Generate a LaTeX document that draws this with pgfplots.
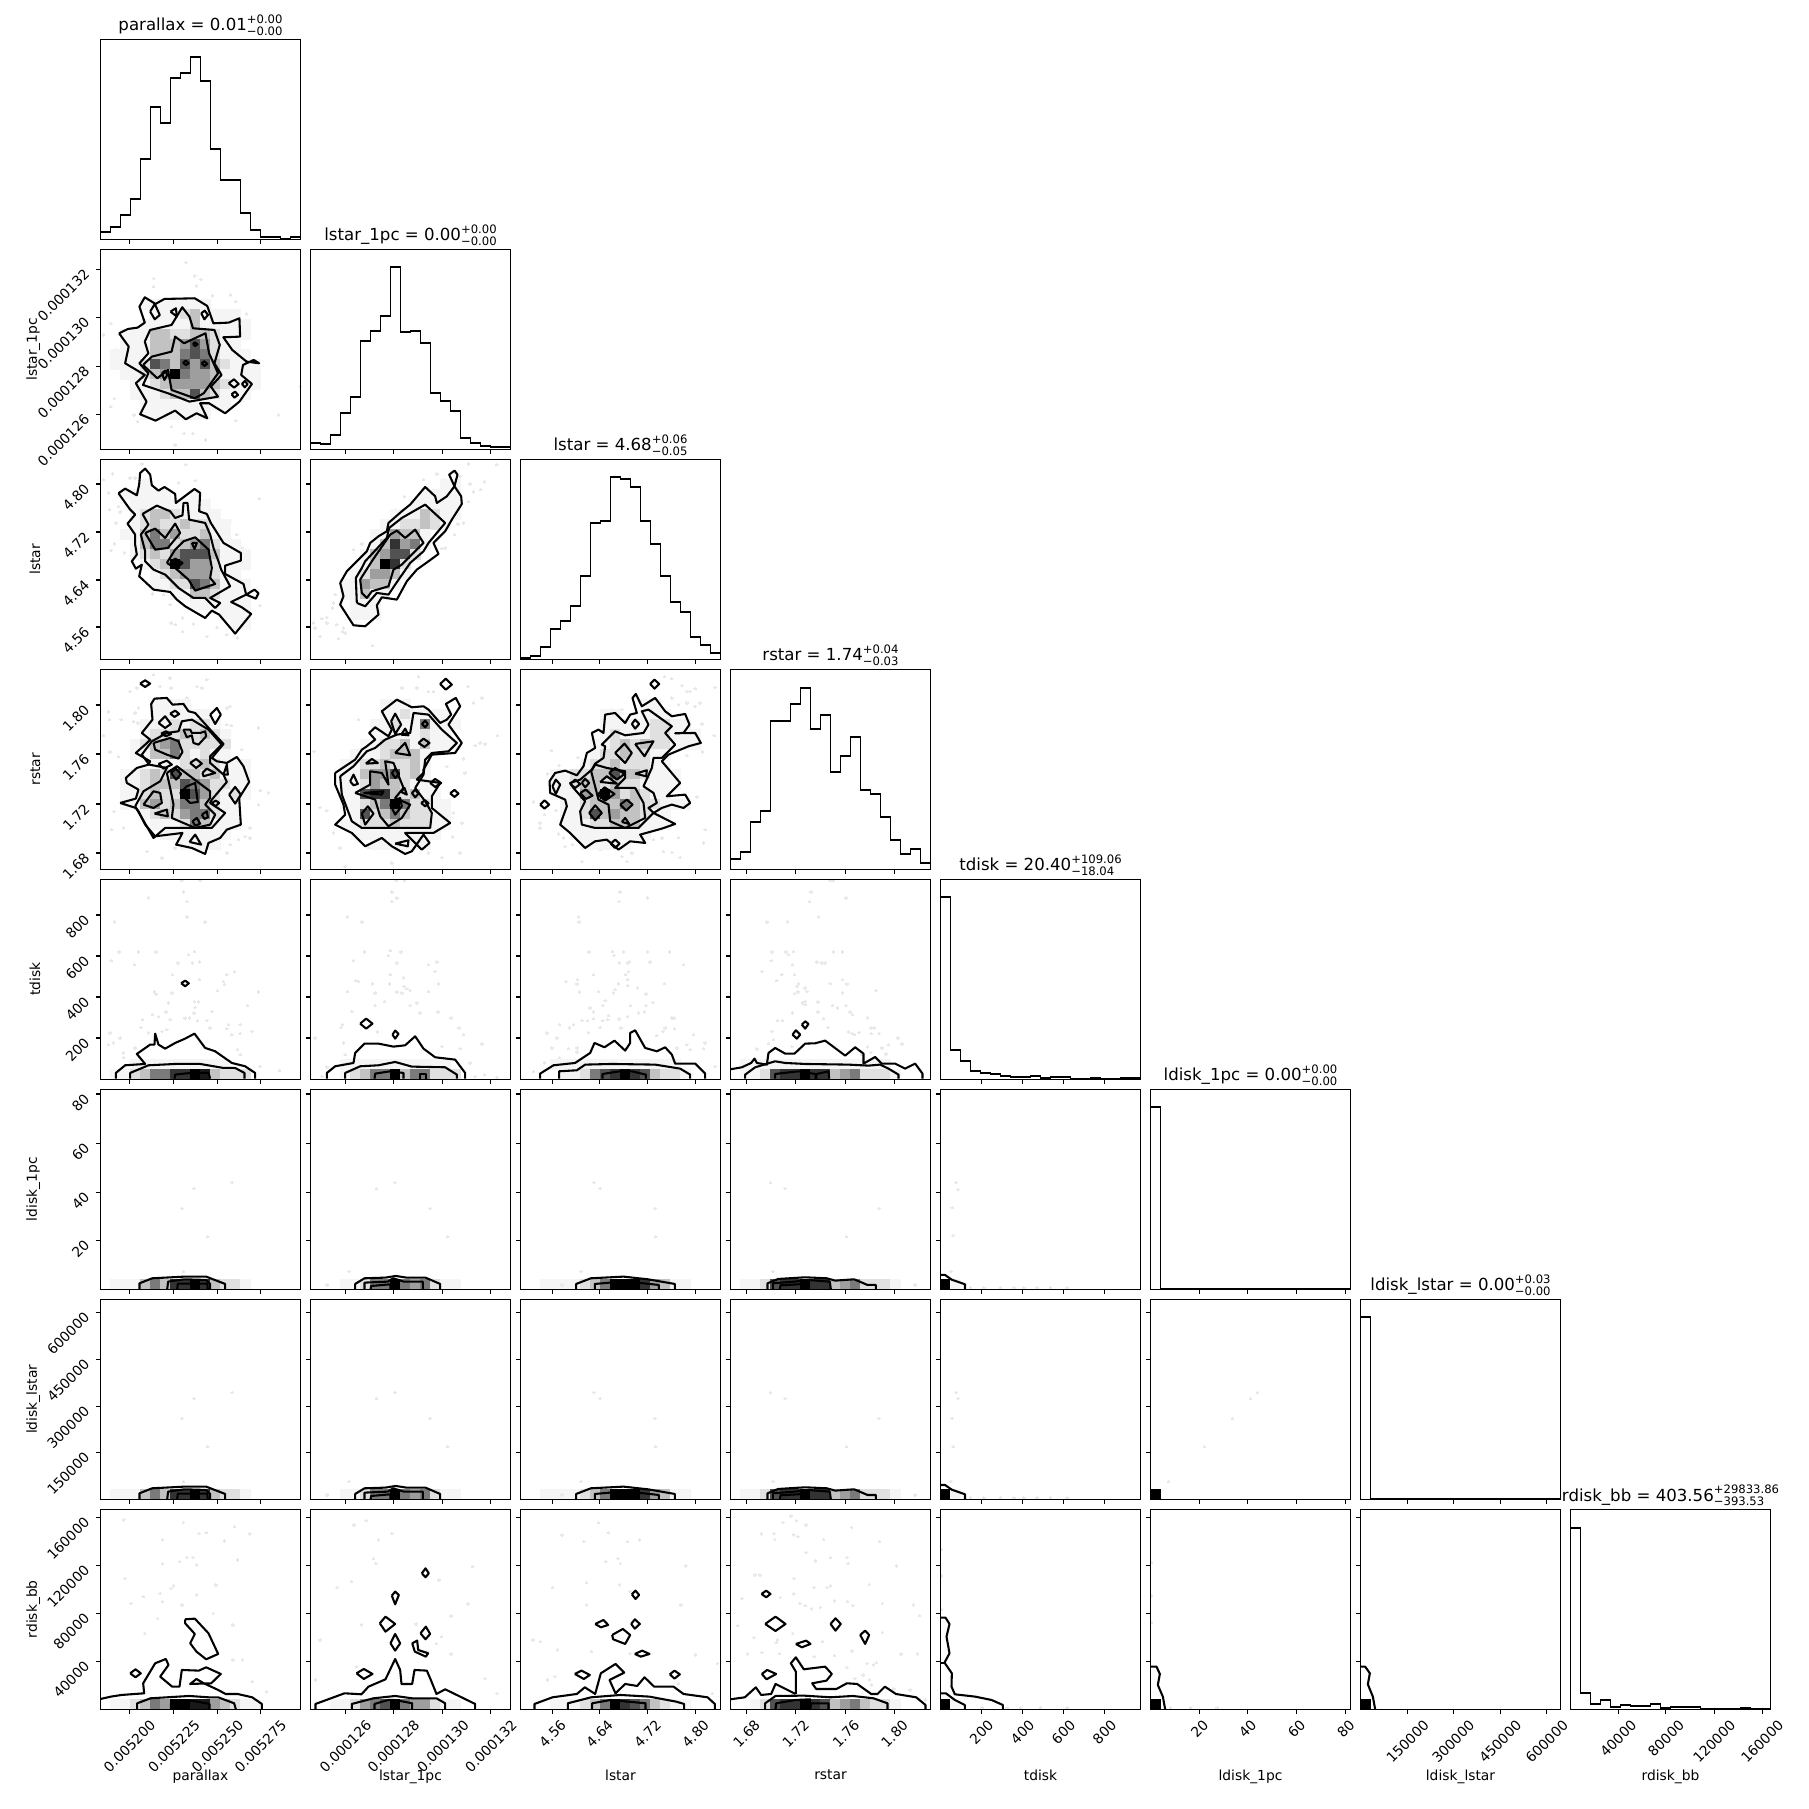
\documentclass[border=0pt]{standalone}
\usepackage{fontspec}
\setmainfont{DejaVu Sans}
\usepackage{graphicx}
\usepackage{pgfplots}
\pgfplotsset{compat=1.18}
\newcommand\rb[1]{\rotatebox{45}{#1}}
\newcommand\ttl[4]{{\fontsize{12}{14}\selectfont #1 = #2{\fontsize{8.4}{9}\selectfont\ooalign{\raisebox{5.2pt}{#3}\hfil\cr\raisebox{-3.5pt}{#4}\hfil\cr}}}}
\newcommand\calib[4]{\def\xo{#1}\def\xs{#2}\def\yo{#3}\def\ys{#4}}
\newcount\cx \newcount\cy
\def\C#1#2{\cy=#1 \cx=0 \parsecells#2\relax}
\def\parsecells#1{\ifx#1\relax\else
  \if#10\else\xdef\celldata{\celldata(\the\numexpr\cx*30+15\relax,\the\numexpr\cy*30+15\relax)[#1]}\fi
  \advance\cx 1 \expandafter\parsecells\fi}
\newcommand\img[1]{\gdef\celldata{}#1\expandafter\imgplot\expandafter{\celldata}}
\def\imgplot#1{\addplot[cell] coordinates {#1};}
\newcommand\ct[1]{\addplot[ct] coordinates {#1};}
\newcommand\pts[1]{\addplot[pt] coordinates {#1};}
\newcommand\hh[1]{\gdef\hd{(0,0)}\foreach \v [count=\i from 0] in {#1}{\pgfmathtruncatemacro\xx{\i*30}\xdef\hd{\hd(\xx,\v)}\xdef\lastv{\v}}\xdef\hd{\hd(600,\lastv)(600,0)}\expandafter\hplot\expandafter{\hd}}
\def\hplot#1{\addplot[hl] coordinates {#1};}
\pgfplotsset{
 colormap={corner}{gray(0cm)=(1); gray(1cm)=(.96); gray(2cm)=(.88); gray(3cm)=(.76); gray(4cm)=(.62); gray(5cm)=(.48); gray(6cm)=(.32); gray(7cm)=(.2); gray(8cm)=(.1); gray(9cm)=(0)},
 cell/.style={scatter,only marks,mark=square*,mark size=3.65pt,point meta=explicit,
   scatter/use mapped color={draw=mapped color,fill=mapped color},mark options={line width=0pt}},
 ct/.style={black,line width=1.5pt,line join=round,no marks,
   x filter/.expression={(x-\xo)*\xs},y filter/.expression={(y-\yo)*\ys}},
 pt/.style={only marks,mark=*,mark size=0.9pt,mark options={draw=black!9,fill=black!9,line width=0pt},
   x filter/.expression={(x-\xo)*\xs},y filter/.expression={(y-\yo)*\ys}},
 hl/.style={black,line width=1.3pt,no marks,const plot mark left},
 p/.style 2 args={at={({(100.5+210*(#1-1))*0.7227pt},{(99.7+210*(8-#2))*0.7227pt})}},
 base/.style={anchor=south west,width=144.54pt,height=144.54pt,scale only axis,clip mode=individual,
   xmin=0,xmax=600,ymin=0,ymax=600,axis on top,colormap name=corner,point meta min=0,point meta max=9,
   tick align=outside,major tick length=3.5pt,tick style={black,line width=0.8pt},
   axis line style={line width=0.8pt},
   xticklabels={},yticklabels={},
   xticklabel shift=3.5pt,yticklabel shift=3.5pt,
   x tick label style={anchor=north,inner sep=0pt},
   y tick label style={anchor=north east,inner sep=0pt,yshift=1pt},
   every axis y label/.style={at={(axis description cs:-0.3,0.5)},rotate=90,anchor=south,inner sep=0pt},
   every axis x label/.style={at={(axis description cs:0.5,-0.3)},anchor=north,inner sep=0pt},
   title style={at={(axis description cs:0.5,1)},anchor=base,inner sep=0pt}},
 two/.style={base,y dir=reverse,xtick pos=left,xticklabel pos=left,ytick pos=left},
 one/.style={base,ytick=\empty,xtick pos=left},
 c1/.style={xtick={87,220,351,480}},
 c2/.style={xtick={105,249,397,541}},
 c3/.style={xtick={96,237,381,525}},
 c4/.style={xtick={48,195,346,492}},
 c5/.style={xtick={122.5,245.5,368.5,491.5}},
 c6/.style={xtick={147,291,438,586}},
 c7/.style={xtick={141,278,419,559}},
 c8/.style={xtick={143,286,431,575}},
 r2/.style={ytick={60,204,351,495}},
 r3/.style={ytick={74,218,362,503}},
 r4/.style={ytick={107,254,404,551}},
 r5/.style={ytick={107,230,353,476}},
 r6/.style={ytick={14,162,309,453}},
 r7/.style={ytick={39,180,321,459}},
 r8/.style={ytick={24,168,312,456}},
 lc1/.style={xticklabels={\rb{0.005200},\rb{0.005225},\rb{0.005250},\rb{0.005275}},xlabel={parallax}},
 lc2/.style={xticklabels={\rb{0.000126},\rb{0.000128},\rb{0.000130},\rb{0.000132}},xlabel={lstar\_1pc}},
 lc3/.style={xticklabels={\rb{4.56},\rb{4.64},\rb{4.72},\rb{4.80}},xlabel={lstar}},
 lc4/.style={xticklabels={\rb{1.68},\rb{1.72},\rb{1.76},\rb{1.80}},xlabel={rstar}},
 lc5/.style={xticklabels={\rb{200},\rb{400},\rb{600},\rb{800}},xlabel={tdisk}},
 lc6/.style={xticklabels={\rb{20},\rb{40},\rb{60},\rb{80}},xlabel={ldisk\_1pc}},
 lc7/.style={xticklabels={\rb{150000},\rb{300000},\rb{450000},\rb{600000}},xlabel={ldisk\_lstar}},
 lc8/.style={xticklabels={\rb{40000},\rb{80000},\rb{120000},\rb{160000}},xlabel={rdisk\_bb}},
 lr2/.style={yticklabels={\rb{0.000132},\rb{0.000130},\rb{0.000128},\rb{0.000126}},ylabel={lstar\_1pc}},
 lr3/.style={yticklabels={\rb{4.80},\rb{4.72},\rb{4.64},\rb{4.56}},ylabel={lstar}},
 lr4/.style={yticklabels={\rb{1.80},\rb{1.76},\rb{1.72},\rb{1.68}},ylabel={rstar}},
 lr5/.style={yticklabels={\rb{800},\rb{600},\rb{400},\rb{200}},ylabel={tdisk}},
 lr6/.style={yticklabels={\rb{80},\rb{60},\rb{40},\rb{20}},ylabel={ldisk\_1pc}},
 lr7/.style={yticklabels={\rb{600000},\rb{450000},\rb{300000},\rb{150000}},ylabel={ldisk\_lstar}},
 lr8/.style={yticklabels={\rb{160000},\rb{120000},\rb{80000},\rb{40000}},ylabel={rdisk\_bb}},
}
% shared bodies of rows 6 and 7 (the two quantities are tied together)
\def\bodyA{\calib{0}{1}{0}{1}\img{\C{19}{011135377973221}}
 \ct{(117,600)(117,582)(155,567)(252,562)(317,562)(374,584)(374,600)}
 \ct{(200,600)(203,577)(252,570)(317,572)(329,584)(329,600)}
 \ct{(230,600)(232,583)(320,583)(322,600)}
 \pts{(395,279)(281,297)(244,357)(322,442)(249,546)}}
\def\bodyB{\calib{0}{1}{0}{1}\img{\C{19}{000112559545211}}
 \ct{(134,600)(134,584)(162,567)(224,565)(256,560)(288,565)(345,565)(389,584)(389,600)}
 \ct{(162,600)(162,580)(232,577)(248,567)(280,577)(337,577)(337,600)}
 \ct{(180,600)(182,590)(240,585)(240,600)}
 \pts{(253,279)(198,297)(359,357)(412,442)(116,546)(50,587)}}
\def\bodyC{\calib{0}{1}{0}{1}\img{\C{19}{00111123599974311}}
 \ct{(167,600)(167,584)(211,567)(309,562)(382,570)(463,584)(463,600)}
 \ct{(223,600)(223,584)(268,580)(350,580)(415,587)(415,600)}
 \pts{(220,279)(239,297)(403,357)(406,442)(182,546)(125,587)}}
\def\bodyD{\calib{0}{1}{0}{1}\img{\C{19}{01126779773452221}}
 \ct{(111,600)(111,582)(143,569)(224,564)(289,567)(314,574)(371,570)(411,587)(436,587)(436,600)}
 \ct{(127,600)(127,582)(192,577)(232,572)(298,577)(301,600)}
 \ct{(148,600)(150,588)(220,584)(222,600)}
 \pts{(120,279)(164,297)(445,357)(348,442)(127,546)(554,587)}}
\begin{document}
\begin{tikzpicture}
\useasboundingbox (0,0) rectangle (1307.36pt,1307.36pt);
% ---- diagonal
\begin{axis}[one,p={1}{1},c1,title={\ttl{parallax}{0.01}{+0.00}{−0.00}}]
\hh{21,36,72,120,240,396,348,483,499,546,475,270,177,177,78,28,6,6,1,6}
\end{axis}
\begin{axis}[one,p={2}{2},c2,title={\ttl{lstar\_1pc}{0.00}{+0.00}{−0.00}}]
\hh{18,15,42,108,156,324,354,399,546,351,354,318,168,144,114,33,18,10,6,6}
\end{axis}
\begin{axis}[one,p={3}{3},c3,title={\ttl{lstar}{4.68}{+0.06}{−0.05}}]
\hh{4,11,36,90,114,160,249,408,414,546,541,516,414,345,249,171,141,66,42,18}
\end{axis}
\begin{axis}[one,p={4}{4},c4,title={\ttl{rstar}{1.74}{+0.04}{−0.03}}]
\hh{32,53,142,174,446,446,497,545,420,464,293,339,398,239,225,158,87,46,60,20}
\end{axis}
\begin{axis}[one,p={5}{5},c5,title={\ttl{tdisk}{20.40}{+109.06}{−18.04}}]
\hh{546,88,55,26,20,16,11,6,6,10,4,6,6,1,1,4,1,2,4,4}
\end{axis}
\begin{axis}[one,p={6}{6},c6,title={\ttl{ldisk\_1pc}{0.00}{+0.00}{−0.00}}]
\hh{546,0,0,0,0,0,0,0,0,0,0,0,0,0,0,0,0,0,0,0}
\end{axis}
\begin{axis}[one,p={7}{7},c7,title={\ttl{ldisk\_lstar}{0.00}{+0.03}{−0.00}}]
\hh{546,0,0,0,0,0,0,0,0,0,0,0,0,0,0,0,0,0,0,0}
\end{axis}
\begin{axis}[one,p={8}{8},c8,lc8,title={\ttl{rdisk\_bb}{403.56}{+29833.86}{−393.53}}]
\hh{545,50,17,27,7,14,11,11,15,5,8,6,6,2,2,2,2,5,2,2}
\end{axis}
% ---- row 2
\calib{281}{1.0714}{748}{1}
\begin{axis}[two,p={1}{2},c1,r2,lr2]
\pts{(520,787)(430,835)(545,828)(562,838)(550,858)(430,860)(645,885)(595,888)(660,905)(690,942)(310,970)(290,1005)(327,1050)(340,1120)(320,1195)(310,1220)(375,1245)(385,1265)(480,1280)(515,1300)(540,1300)(575,1320)(490,1335)(660,1262)(780,1245)(662,1160)(840,1160)}
\img{\C{5}{00001111111}\C{6}{00000111231111}\C{7}{000011111311111}\C{8}{001113322332111}\C{9}{00111333464211}\C{10}{011113335652111}\C{11}{0111265364632111}\C{12}{0011234954431111}\C{13}{0001123444432111}\C{14}{000111233632111}\C{15}{0000111111111}\C{16}{00001111111}}
\ct{(333,1000)(358,987)(385,983)(405,968)(390,920)(405,892)(435,912)(460,897)(545,895)(580,918)(597,970)(640,968)(670,955)(672,1010)(625,1012)(650,1050)(690,1085)(725,1090)(710,1080)(680,1095)(675,1125)(705,1152)(670,1205)(630,1240)(585,1210)(560,1210)(580,1255)(550,1240)(520,1258)(490,1232)(435,1262)(392,1243)(410,1205)(380,1150)(405,1125)(350,1090)(360,1040)(333,1000)}
\ct{(405,1025)(420,990)(480,975)(510,922)(530,950)(540,985)(600,990)(615,1035)(600,1090)(620,1125)(590,1160)(610,1190)(530,1205)(470,1180)(400,1155)(415,1120)(390,1090)(415,1060)(405,1025)}
\ct{(400,1095)(425,1070)(480,1055)(490,1010)(515,1030)(575,1000)(585,1060)(610,1120)(570,1180)(545,1195)(480,1170)(470,1110)(440,1135)(400,1095)}
\ct{(420,935)(433,912)(447,945)(433,958)(420,935)}
\ct{(477,935)(492,925)(495,950)(477,935)}
\ct{(563,940)(573,932)(582,945)(572,958)(563,940)}
\ct{(640,1150)(655,1138)(668,1152)(655,1163)(640,1150)}
\ct{(648,1183)(658,1175)(666,1185)(656,1193)(648,1183)}
\ct{(677,1152)(685,1143)(693,1153)(685,1162)(677,1152)}
\ct{(453,1120)(462,1112)(468,1125)(460,1140)(453,1120)}
\ct{(540,1033)(545,1027)(553,1033)(546,1038)(540,1033)}
\ct{(512,1088)(520,1082)(528,1090)(520,1095)(512,1088)}
\ct{(564,1090)(572,1084)(580,1092)(572,1098)(564,1090)}
\end{axis}
% ---- row 3
\calib{16}{1}{14}{1}
\begin{axis}[two,p={1}{3},c1,r3,lr3]
\pts{(52,58)(25,75)(40,115)(43,165)(70,155)(75,172)(62,205)(85,245)(95,232)(58,268)(48,287)(88,295)(105,70)(120,70)(272,30)(140,28)(492,132)(405,200)(385,208)(425,240)(400,250)(440,280)(455,300)(250,85)(300,78)(240,510)(262,490)(228,505)(295,508)(262,530)(335,545)(365,518)(395,540)(427,550)(495,452)(172,418)(205,420)(225,450)}
\img{\C{2}{00001}\C{3}{0011111001}\C{4}{00011111111}\C{5}{000123321111}\C{6}{0001232232211}\C{7}{0011353422311}\C{8}{00013552345211}\C{9}{000123246663111}\C{10}{000012396442111}\C{11}{00000123444211}\C{12}{000001122653111}\C{13}{000000011332111}\C{14}{000000000111111}\C{15}{000000000000111}\C{16}{000000000000011}}
\ct{(70,116)(90,102)(125,122)(132,90)(135,55)(150,42)(165,60)(170,92)(190,108)(208,97)(240,118)(242,145)(298,103)(315,115)(312,170)(335,178)(347,205)(385,265)(437,295)(437,318)(390,333)(390,358)(445,388)(453,420)(478,405)(490,416)(482,432)(453,420)(408,442)(440,458)(468,478)(420,537)(372,480)(350,468)(330,490)(270,455)(245,435)(225,412)(175,405)(132,365)(140,330)(122,342)(110,320)(125,300)(120,270)(120,240)(97,207)(120,180)(105,165)(70,116)}
\ct{(142,178)(185,153)(225,170)(240,190)(262,182)(265,145)(277,145)(282,195)(330,205)(345,240)(355,280)(370,320)(378,345)(405,395)(345,430)(375,445)(360,460)(330,430)(295,430)(250,400)(210,360)(175,345)(150,320)(150,290)(137,240)(160,210)(142,178)}
\ct{(150,235)(180,222)(210,250)(240,207)(255,235)(218,280)(180,285)(150,235)}
\ct{(215,325)(240,285)(265,260)(300,248)(340,285)(350,340)(345,370)(360,388)(300,408)(280,375)(240,340)(215,325)}
\ct{(290,265)(305,265)(298,283)(290,265)}
\ct{(225,325)(240,312)(262,325)(245,340)(225,325)}
\end{axis}
\calib{646}{1}{14}{1}
\begin{axis}[two,p={2}{3},c2,r3]
\pts{(1120,28)(1205,30)(1025,58)(1095,65)(1045,75)(985,75)(1040,98)(1125,88)(1168,82)(1157,105)(1135,112)(1120,140)(928,125)(900,165)(1105,205)(1088,208)(1078,240)(1050,280)(1040,282)(775,285)(800,268)(720,420)(715,445)(712,460)(695,488)(680,492)(655,505)(660,520)(695,505)(745,520)(742,530)(725,510)(750,535)(675,545)(730,552)(832,573)}
\img{\C{2}{000000000000011}\C{3}{000000000001111}\C{4}{000000000011111}\C{5}{000000001113211}\C{6}{00000001122321}\C{7}{000000114331}\C{8}{000000137451}\C{9}{00000134662}\C{10}{0000013972}\C{11}{0000124431}\C{12}{000114331}\C{13}{00011311}\C{14}{0000111}\C{15}{0000111}}
\ct{(735,385)(755,350)(815,290)(825,265)(850,245)(875,230)(880,205)(920,170)(945,150)(990,97)(1020,125)(1025,145)(1055,125)(1078,95)(1062,60)(1078,48)(1087,60)(1078,95)(1098,125)(1100,148)(1070,195)(1050,230)(1015,265)(1030,298)(1000,320)(965,345)(935,380)(905,435)(860,428)(845,452)(850,480)(810,515)(775,512)(735,450)(745,425)(735,385)}
\ct{(785,445)(782,370)(800,340)(810,320)(875,250)(882,220)(920,190)(990,150)(1050,205)(1000,265)(985,290)(945,325)(900,390)(880,420)(845,415)(810,455)(785,445)}
\ct{(795,375)(830,320)(885,240)(905,228)(930,250)(960,225)(985,265)(920,330)(895,345)(880,395)(830,410)(815,430)(800,415)(795,375)}
\end{axis}
% ---- row 4
\calib{16}{1}{14}{1}
\begin{axis}[two,p={1}{4},c1,r4,lr4]
\pts{(175,30)(225,40)(105,80)(125,70)(195,65)(228,70)(305,65)(335,45)(320,70)(275,100)(405,125)(395,130)(130,130)(120,145)(40,142)(78,165)(115,170)(128,175)(43,165)(395,180)(408,183)(490,190)(25,212)(45,262)(70,275)(440,255)(495,378)(57,440)(50,495)(85,490)(200,580)(155,560)(240,550)(405,540)(430,525)(450,515)(465,520)(465,490)(395,565)(520,385)(490,420)}
\img{\C{3}{000001111}\C{4}{00000111111}\C{5}{000011121221}\C{6}{0000122232321}\C{7}{0001234522222}\C{8}{0001133521211}\C{9}{000011112232111}\C{10}{001123263323111}\C{11}{001123336542211}\C{12}{001123229642121}\C{13}{00113423553211}\C{14}{00001232455211}\C{15}{00000111253111}\C{16}{0000001111111}\C{17}{000000001111}}
\ct{(75,415)(122,402)(130,375)(95,355)(92,340)(125,310)(160,300)(165,290)(122,265)(150,240)(165,225)(140,205)(172,165)(168,118)(178,102)(215,100)(232,120)(265,118)(280,140)(300,145)(345,195)(385,238)(350,280)(365,290)(395,295)(425,277)(445,305)(462,352)(432,400)(437,480)(395,495)(375,520)(340,535)(330,568)(290,550)(243,540)(262,505)(180,515)(150,480)(140,460)(130,440)(122,430)(75,415)}
\ct{(120,425)(145,380)(195,350)(215,310)(162,300)(140,270)(170,230)(215,205)(250,200)(260,170)(290,165)(340,195)(380,240)(345,275)(345,295)(385,330)(395,352)(350,405)(345,415)(390,445)(350,490)(280,490)(210,490)(175,520)(120,425)}
\ct{(175,235)(225,220)(250,230)(262,262)(250,282)(215,270)(180,255)(175,235)}
\ct{(265,195)(285,195)(290,205)(315,205)(330,200)(333,215)(310,240)(295,235)(290,212)(275,218)(265,195)}
\ct{(215,325)(245,305)(345,380)(345,400)(330,420)(360,450)(345,480)(300,490)(230,460)(235,420)(225,370)(215,325)}
\ct{(145,420)(175,380)(195,385)(200,415)(175,430)(145,420)}
\ct{(135,57)(150,47)(165,57)(150,67)(135,57)}
\ct{(345,150)(365,130)(377,150)(360,178)(345,150)}
\ct{(190,175)(210,155)(227,178)(210,190)(190,175)}
\ct{(225,147)(240,138)(252,148)(238,157)(225,147)}
\ct{(198,207)(212,200)(228,208)(212,215)(198,207)}
\ct{(190,298)(215,288)(230,300)(205,312)(190,298)}
\ct{(285,295)(303,283)(320,297)(303,310)(285,295)}
\ct{(322,325)(335,312)(360,325)(325,335)(322,325)}
\ct{(178,447)(215,435)(218,455)(178,447)}
\ct{(402,390)(420,367)(437,390)(420,417)(402,390)}
\ct{(350,415)(362,408)(372,415)(360,425)(350,415)}
\ct{(283,532)(300,510)(318,540)(283,532)}
\ct{(385,330)(395,300)(398,330)(385,330)}
\ct{(228,325)(242,312)(258,328)(243,345)(228,325)}
\ct{(320,450)(335,440)(338,458)(328,463)(320,450)}
\ct{(292,470)(305,460)(315,477)(300,483)(292,470)}
\ct{(255,385)(275,365)(300,355)(308,412)(285,415)(255,385)}
\end{axis}
\calib{646}{1}{14}{1}
\begin{axis}[two,p={2}{4},c2,r4]
\pts{(970,35)(920,70)(965,70)(1000,80)(1015,80)(1118,65)(1160,100)(1135,115)(1140,243)(1155,235)(1170,238)(1207,213)(790,165)(657,260)(1105,283)(1055,305)(1110,325)(1100,475)(1072,517)(1075,445)(675,428)(695,438)(715,505)(735,550)(820,548)(1000,565)(1040,578)(1095,565)(750,605)(890,595)}
\img{\C{3}{0000000111}\C{4}{00000001121111}\C{5}{000000112115111}\C{6}{00000011111211}\C{7}{000001122313111}\C{8}{000011123331}\C{9}{000112232231}\C{10}{000113446231}\C{11}{0001124332111}\C{12}{0001167732311}\C{13}{00011235952211}\C{14}{00001623532211}\C{15}{00011222322211}\C{16}{0000111111111}\C{17}{000000111111}}
\ct{(720,325)(780,285)(800,255)(815,245)(840,225)(822,205)(840,188)(880,215)(890,195)(860,140)(905,105)(950,128)(985,125)(1000,135)(1035,175)(1055,165)(1068,150)(1052,118)(1082,100)(1095,125)(1060,180)(1100,235)(1080,265)(1010,270)(985,315)(985,325)(965,345)(1035,355)(1010,395)(1010,430)(1065,475)(1015,505)(930,505)(980,555)(1003,535)(985,510)(950,560)(930,568)(890,545)(860,520)(810,545)(770,505)(720,480)(750,450)(745,420)(720,360)(720,325)}
\ct{(735,335)(775,305)(815,260)(840,250)(870,225)(905,210)(945,205)(955,145)(1000,150)(1040,195)(1085,235)(1060,260)(1010,265)(990,285)(985,330)(960,370)(990,410)(1010,445)(1005,490)(950,490)(800,490)(770,470)(740,390)(735,335)}
\ct{(780,385)(825,360)(825,320)(860,325)(880,360)(870,290)(895,295)(925,370)(900,400)(945,420)(920,460)(880,485)(855,455)(840,405)(780,385)}
\ct{(805,385)(865,380)(860,390)(805,385)}
\ct{(885,420)(915,400)(920,425)(900,450)(885,420)}
\ct{(800,447)(818,425)(835,447)(810,480)(800,447)}
\ct{(980,178)(990,168)(998,178)(990,188)(980,178)}
\ct{(970,235)(985,222)(1003,235)(988,247)(970,235)}
\ct{(900,265)(930,235)(945,272)(900,265)}
\ct{(888,170)(900,147)(918,180)(900,208)(888,170)}
\ct{(918,210)(930,192)(940,212)(918,210)}
\ct{(765,350)(775,330)(788,358)(775,362)(765,350)}
\ct{(812,297)(830,283)(848,295)(812,297)}
\ct{(890,325)(900,313)(912,327)(900,340)(890,325)}
\ct{(950,385)(960,375)(970,387)(960,398)(950,385)}
\ct{(978,415)(990,407)(1000,416)(990,425)(978,415)}
\ct{(1005,355)(1020,343)(1038,355)(1020,367)(1005,355)}
\ct{(1065,386)(1078,376)(1090,387)(1078,397)(1065,386)}
\ct{(1035,58)(1052,42)(1070,60)(1052,75)(1035,58)}
\ct{(900,537)(940,527)(938,545)(900,537)}
\ct{(918,382)(928,370)(935,390)(918,382)}
\end{axis}
\calib{16}{1}{14}{1}
\begin{axis}[two,p={3}{4},c3,r4]
\pts{(448,35)(500,62)(470,42)(525,80)(515,80)(540,72)(600,68)(470,100)(490,120)(515,115)(555,115)(540,125)(560,178)(597,213)(562,262)(515,272)(545,397)(570,495)(565,535)(490,518)(440,520)(415,525)(445,560)(470,563)(495,578)(350,565)(320,575)(335,590)(255,555)(130,508)(145,520)(150,545)(172,540)(75,490)(75,475)(88,450)(122,437)(55,412)(108,258)(188,278)(132,302)(97,328)(200,590)(290,135)(320,135)}
\img{\C{3}{00000000000011}\C{4}{000000001100111}\C{5}{00000000111112211}\C{6}{000000001211122111}\C{7}{000000011232322111}\C{8}{000000012232211}\C{9}{000000122322211}\C{10}{0001122336332111}\C{11}{0001123323221111}\C{12}{000111439423211}\C{13}{00001123335322111}\C{14}{000011263433211}\C{15}{000011122333111}\C{16}{0000011111111}\C{17}{00000011111}}
\ct{(103,350)(120,325)(150,318)(185,332)(205,305)(215,265)(240,250)(230,205)(250,195)(265,205)(270,150)(300,145)(330,175)(345,150)(365,145)(352,100)(362,88)(380,125)(420,100)(450,140)(470,155)(510,148)(523,180)(505,205)(480,206)(540,205)(557,235)(520,245)(460,270)(440,290)(495,355)(455,395)(510,390)(525,415)(505,430)(470,420)(440,430)(415,445)(480,478)(440,492)(375,510)(390,535)(345,530)(310,555)(275,525)(240,530)(210,550)(165,505)(135,480)(155,425)(150,405)(105,385)(103,350)}
\ct{(230,315)(240,297)(265,280)(270,245)(260,240)(300,200)(330,212)(385,205)(400,180)(380,140)(400,135)(470,185)(450,205)(480,240)(440,280)(415,280)(410,310)(385,365)(415,385)(425,415)(400,430)(415,445)(370,490)(330,490)(240,490)(200,480)(195,440)(210,410)(175,370)(165,355)(195,345)(230,315)}
\ct{(228,320)(240,300)(275,310)(330,320)(330,340)(300,370)(340,370)(360,370)(385,415)(390,460)(330,490)(285,470)(280,420)(250,405)(228,320)}
\ct{(300,265)(328,237)(350,265)(330,295)(300,265)}
\ct{(360,238)(415,230)(388,275)(360,238)}
\ct{(282,325)(300,310)(328,328)(305,345)(282,325)}
\ct{(360,327)(395,317)(393,335)(360,327)}
\ct{(255,352)(275,335)(305,357)(255,352)}
\ct{(315,420)(335,405)(352,420)(333,438)(315,420)}
\ct{(320,472)(330,460)(342,478)(320,472)}
\ct{(222,445)(240,422)(260,445)(240,467)(222,445)}
\ct{(195,385)(212,375)(232,393)(212,403)(195,385)}
\ct{(165,358)(180,345)(195,358)(180,370)(165,358)}
\ct{(200,355)(210,342)(222,355)(210,368)(200,355)}
\ct{(112,365)(122,345)(135,360)(122,388)(112,365)}
\ct{(75,420)(88,407)(102,420)(88,432)(75,420)}
\ct{(350,178)(360,165)(372,178)(360,192)(350,178)}
\ct{(405,58)(418,45)(432,58)(418,72)(405,58)}
\ct{(287,537)(300,525)(313,537)(300,550)(287,537)}
\ct{(248,390)(268,368)(298,388)(270,408)(248,390)}
\end{axis}
% ---- row 5
\calib{16}{1}{14}{1}
\begin{axis}[two,p={1}{5},c1,r5,lr5]
\pts{(58,142)(160,70)(265,52)(275,80)(275,127)(330,142)(260,18)(315,18)(72,232)(130,232)(182,232)(298,230)(280,240)(48,258)(118,270)(248,265)(292,265)(313,262)(418,290)(395,300)(232,300)(313,315)(385,320)(388,330)(178,350)(182,358)(230,355)(367,347)(490,352)(220,385)(298,380)(310,382)(457,392)(300,398)(350,410)(212,412)(172,420)(190,425)(297,415)(142,435)(225,435)(270,430)(283,430)(307,438)(335,437)(138,458)(160,475)(200,470)(215,465)(345,460)(400,450)(435,450)(395,462)(470,470)(435,476)(75,490)(45,475)(40,510)(55,505)(120,520)(85,535)(85,548)(495,575)(553,587)(435,540)(427,525)(410,480)}
\img{\C{18}{0001111111111}\C{19}{011235577983222}}
\ct{(62,612)(62,595)(90,572)(150,568)(125,538)(165,510)(178,510)(180,477)(190,510)(210,522)(240,505)(270,492)(298,477)(330,520)(360,530)(410,565)(450,575)(480,595)(480,612)}
\ct{(105,612)(105,595)(160,572)(240,568)(315,568)(385,580)(420,580)(448,595)(448,612)}
\ct{(238,612)(240,600)(285,595)(340,595)(345,612)}
\ct{(258,326)(270,318)(281,326)(270,335)(258,326)}
\end{axis}
\calib{646}{1}{14}{1}
\begin{axis}[two,p={2}{5},c2,r5]
\pts{(757,127)(800,142)(890,52)(905,70)(890,80)(928,18)(903,18)(808,232)(885,228)(918,232)(880,242)(775,258)(905,265)(1000,270)(1025,262)(1020,290)(885,300)(782,318)(790,320)(925,310)(1030,328)(832,328)(883,328)(927,335)(935,342)(945,347)(757,350)(840,355)(905,352)(920,355)(1000,350)(868,380)(840,392)(965,385)(945,392)(770,410)(1028,412)(975,415)(1068,430)(742,450)(738,458)(1092,460)(847,472)(1105,480)(660,490)(745,505)(1040,515)(1160,508)(1095,522)(750,540)(1125,565)(695,577)(680,605)(1140,605)(1168,600)(1205,608)}
\img{\C{18}{00011111111111}\C{19}{000123559355222}}
\ct{(695,612)(695,595)(720,575)(775,565)(780,535)(808,507)(850,507)(895,516)(930,512)(960,485)(985,522)(1020,548)(1080,555)(1110,595)(1110,612)}
\ct{(750,612)(750,595)(795,575)(850,572)(900,562)(950,576)(1050,578)(1085,600)(1085,612)}
\ct{(838,612)(840,597)(885,590)(925,595)(925,612)}
\ct{(975,612)(975,597)(992,597)(992,612)}
\ct{(795,447)(813,432)(832,447)(813,462)(795,447)}
\ct{(892,480)(900,468)(910,478)(900,492)(892,480)}
\end{axis}
\calib{16}{1}{14}{1}
\begin{axis}[two,p={3}{5},c3,r5]
\pts{(190,127)(192,142)(315,52)(312,80)(397,70)(222,232)(292,230)(297,242)(325,232)(397,232)(463,232)(343,262)(338,265)(313,265)(405,262)(505,270)(340,290)(332,300)(235,300)(153,320)(187,315)(186,328)(338,315)(310,328)(338,333)(448,327)(193,352)(250,350)(295,355)(300,345)(367,340)(393,358)(270,378)(413,383)(263,392)(346,392)(393,392)(225,400)(235,412)(370,415)(388,412)(280,422)(470,430)(476,430)(200,437)(217,437)(235,432)(263,438)(278,435)(312,433)(337,425)(175,450)(163,460)(133,450)(255,458)(220,473)(317,460)(450,460)(478,462)(443,470)(425,483)(535,480)(95,475)(125,490)(110,520)(160,522)(186,520)(186,532)(133,550)(88,565)(515,510)(485,520)(525,525)(565,522)(570,505)(600,575)(55,590)}
\img{\C{18}{0001111111111111}\C{19}{00001125679763221}}
\ct{(75,612)(75,597)(115,572)(180,565)(225,535)(238,505)(268,518)(298,498)(330,528)(345,505)(345,475)(360,467)(390,520)(425,530)(450,518)(470,540)(480,567)(540,567)(570,597)(570,612)}
\ct{(132,612)(132,590)(185,587)(210,570)(290,568)(420,570)(495,582)(525,600)(525,612)}
\ct{(262,612)(262,598)(315,590)(350,590)(392,600)(392,612)}
\end{axis}
\calib{646}{1}{14}{1}
\begin{axis}[two,p={4}{5},c4,r5]
\pts{(755,142)(817,142)(910,127)(883,80)(888,52)(993,70)(945,18)(955,18)(770,232)(812,232)(820,240)(835,230)(955,232)(982,232)(768,258)(832,270)(905,262)(920,265)(930,265)(740,290)(800,300)(838,300)(785,318)(982,315)(995,328)(945,327)(850,328)(845,335)(870,340)(875,350)(1083,347)(838,357)(848,352)(982,355)(862,385)(870,380)(870,390)(908,382)(952,392)(992,392)(967,400)(1005,412)(1012,420)(832,415)(908,412)(787,438)(802,438)(925,432)(1057,430)(770,470)(938,458)(1000,472)(1010,476)(1032,473)(1068,460)(1078,460)(1068,477)(1092,476)(1018,480)(1148,490)(760,507)(775,495)(1120,510)(1100,520)(1160,508)(1057,517)(725,523)(830,515)(1068,533)(1112,538)(1085,555)(1040,540)}
\img{\C{18}{0111111111111111}\C{19}{01126779773452221}}
\ct{(646,584)(680,578)(708,565)(718,552)(725,565)(755,570)(760,535)(780,520)(810,537)(838,537)(870,507)(900,506)(930,498)(990,543)(1020,518)(1045,537)(1045,567)(1080,547)(1100,567)(1140,567)(1170,582)(1200,567)(1222,597)(1222,612)}
\ct{(690,612)(690,600)(720,578)(780,560)(810,565)(870,568)(1000,570)(1060,573)(1095,570)(1120,582)(1150,600)(1150,612)}
\ct{(780,612)(780,598)(850,590)(900,598)(905,612)}
\ct{(900,612)(905,598)(940,590)(942,612)}
\ct{(832,480)(842,467)(855,480)(845,492)(832,480)}
\ct{(860,450)(870,440)(880,448)(870,462)(860,450)}
\end{axis}
% ---- row 6
\begin{axis}[two,p={1}{6},c1,r6,lr6]\bodyA\end{axis}
\begin{axis}[two,p={2}{6},c2,r6]\bodyB\end{axis}
\begin{axis}[two,p={3}{6},c3,r6]\bodyC\end{axis}
\begin{axis}[two,p={4}{6},c4,r6]\bodyD\end{axis}
\calib{0}{1}{0}{1}
\begin{axis}[two,p={5}{6},c5,r6]
\pts{(47,279)(53,300)(35,355)(38,438)(32,546)(90,596)(130,596)(180,596)(220,596)(250,596)(290,596)(330,596)(380,596)}
\img{\C{19}{91}}
\ct{(0,557)(13.5,557)(33.5,571)(73.5,585)(73.5,600)}
\end{axis}
% ---- row 7
\begin{axis}[two,p={1}{7},c1,r7,lr7]\bodyA\end{axis}
\begin{axis}[two,p={2}{7},c2,r7]\bodyB\end{axis}
\begin{axis}[two,p={3}{7},c3,r7]\bodyC\end{axis}
\begin{axis}[two,p={4}{7},c4,r7]\bodyD\end{axis}
\begin{axis}[two,p={5}{7},c5,r7]
\pts{(47,279)(53,297)(35,357)(38,442)(32,546)(90,596)(130,596)(180,596)(220,596)(250,596)(290,596)(330,596)(380,596)}
\img{\C{19}{91}}
\ct{(0,557)(13.5,557)(33.5,571)(73.5,585)(73.5,600)}
\end{axis}
\begin{axis}[two,p={6}{7},c6,r7]
\pts{(321,279)(300,297)(246,357)(162,442)(54,546)}
\img{\C{19}{9}}
\end{axis}
% ---- row 8
\begin{axis}[two,p={1}{8},c1,lc1,r8,lr8]
\calib{207}{1.454}{88}{1}
\pts{(255,120)(378,127)(483,140)(410,160)(425,158)(335,178)(463,183)(515,162)(385,232)(398,232)(370,245)(490,240)(335,250)(405,255)(258,295)(358,318)(445,315)(352,325)(330,340)(405,345)(295,350)(270,370)(335,365)(375,375)(440,400)(325,415)(298,460)(480,435)(500,540)(520,605)(550,635)(480,540)}
\calib{0}{1}{0}{1}
\img{\C{19}{01123549988432110}}
\ct{(0,569)(31,562)(63,557)(131,552)(128,522)(164,462)(196,449)(204,467)(179,502)(215,532)(237,532)(244,482)(295,484)(317,474)(361,494)(332,522)(269,524)(288,509)(310,522)(353,542)(375,554)(411,554)(455,564)(484,584)(484,600)}
\ct{(110,600)(110,582)(150,567)(266,560)(324,564)(353,564)(401,582)(406,600)}
\ct{(211,600)(211,584)(273,574)(327,584)(327,600)}
\ct{(254,330)(283,328)(324,372)(353,434)(317,450)(288,427)(269,402)(283,374)(254,342)(254,330)}
\ct{(89,492)(105,480)(121,492)(105,504)(89,492)}
\end{axis}
\begin{axis}[two,p={2}{8},c2,lc2,r8]
\calib{640}{1.454}{88}{1}
\pts{(755,122)(730,135)(808,160)(770,235)(775,250)(695,322)(725,305)(745,435)(858,432)(930,522)(780,180)(905,300)(975,260)(965,372)(930,408)(910,470)(1025,640)(880,515)(1000,595)(900,490)(650,600)(660,480)(735,560)}
\calib{0}{1}{0}{1}
\img{\C{19}{001124569544211}}
\ct{(15,600)(15,584)(102,552)(153,555)(174,532)(225,510)(254,449)(269,482)(273,524)(305,524)(312,482)(349,484)(361,512)(378,554)(404,540)(494,584)(494,600)}
\ct{(124,600)(124,584)(189,567)(254,560)(305,567)(378,567)(404,582)(404,600)}
\ct{(192,600)(192,584)(233,572)(254,572)(305,582)(305,600)}
\ct{(138,492)(160,479)(186,494)(160,509)(138,492)}
\ct{(208,342)(225,322)(254,344)(225,367)(208,342)}
\ct{(240,402)(254,374)(269,402)(254,424)(240,402)}
\ct{(244,259)(254,247)(265,257)(254,285)(244,259)}
\ct{(334,192)(345,177)(355,192)(345,204)(334,192)}
\ct{(330,372)(346,352)(359,374)(345,390)(330,372)}
\ct{(305,402)(320,394)(323,422)(353,432)(346,442)(313,427)(305,402)}
\end{axis}
\begin{axis}[two,p={3}{8},c3,lc3,r8]
\calib{1074}{1.454}{88}{1}
\pts{(1235,128)(1160,165)(1205,185)(1255,158)(1295,185)(1320,180)(1275,235)(1280,250)(1250,245)(1415,258)(1140,322)(1210,308)(1278,315)(1300,335)(1405,375)(1210,375)(1100,480)(1115,485)(1150,510)(1220,515)(1300,520)(1435,525)(1480,550)(1470,640)(1145,590)(1130,600)(1400,610)}
\calib{0}{1}{0}{1}
\img{\C{19}{00011123597653211}}
\ct{(42,600)(42,584)(96,564)(169,554)(193,534)(224,554)(241,492)(285,464)(311,490)(267,512)(285,552)(314,524)(350,530)(372,504)(401,532)(459,532)(489,554)(561,564)(583,584)(583,600)}
\ct{(142,600)(142,582)(212,564)(300,557)(387,562)(467,577)(491,584)(491,600)}
\ct{(215,600)(215,582)(270,572)(375,582)(375,600)}
\ct{(163,494)(183,484)(208,497)(190,509)(163,494)}
\ct{(224,344)(249,332)(263,347)(241,354)(224,344)}
\ct{(275,377)(307,359)(329,377)(314,404)(278,390)(275,377)}
\ct{(332,344)(343,330)(358,344)(343,358)(332,344)}
\ct{(334,255)(345,244)(356,257)(345,269)(334,255)}
\ct{(343,434)(365,424)(387,434)(361,442)(343,434)}
\ct{(448,495)(462,484)(478,495)(462,508)(448,495)}
\end{axis}
\begin{axis}[two,p={4}{8},c4,lc4,r8]
\calib{0}{1.2245}{58}{1}
\pts{(128,97)(148,78)(162,92)(185,105)(297,112)(76,132)(107,130)(155,135)(165,140)(108,148)(228,148)(365,155)(185,187)(245,202)(285,202)(208,213)(288,220)(407,228)(60,255)(72,255)(155,265)(205,292)(237,292)(245,288)(340,283)(28,325)(122,322)(155,312)(170,340)(183,347)(198,357)(220,352)(255,333)(287,335)(300,347)(372,340)(448,345)(463,377)(18,407)(57,442)(152,430)(115,450)(112,458)(225,455)(372,427)(42,492)(77,488)(120,490)(205,500)(255,497)(298,483)(418,492)(458,492)(285,532)(335,520)(350,525)(358,518)(325,555)(305,565)(340,570)(400,597)(345,585)(440,600)(478,630)}
\calib{0}{1}{0}{1}
\img{\C{19}{00126779763453221}}
\ct{(0,570)(43,564)(76,534)(92,557)(122,554)(135,524)(195,554)}
\ct{(196,554)(196,487)(181,462)(196,444)(220,480)(284,472)(304,494)(288,514)(245,522)(257,539)(318,539)(349,522)(380,524)(422,554)(441,554)(463,532)(496,554)(557,564)(585,587)(585,600)}
\ct{(104,600)(104,582)(135,560)(220,559)(300,564)(367,560)(429,567)(471,582)(471,600)}
\ct{(135,600)(137,582)(196,572)(239,570)(239,600)}
\ct{(239,600)(242,582)(294,582)(294,600)}
\ct{(93,254)(107,244)(120,254)(107,264)(93,254)}
\ct{(104,344)(135,322)(165,344)(135,365)(104,344)}
\ct{(300,344)(315,327)(331,344)(315,364)(300,344)}
\ct{(389,377)(404,364)(416,377)(404,404)(389,377)}
\ct{(196,404)(227,394)(240,404)(214,414)(196,404)}
\ct{(94,494)(110,482)(137,494)(108,510)(94,494)}
\end{axis}
\begin{axis}[two,p={5}{8},c5,lc5,r8]
\calib{0}{1}{0}{1}
\pts{(125,596)(200,596)(240,596)(300,596)(380,596)(3,120)(3,200)(3,300)}
\img{\C{19}{91}}
\ct{(0,325)(15,325)(27,344)(18,382)(27,432)(12,460)(34,492)(33,532)(43,555)(104,562)(153,572)(187,587)(187,600)}
\ct{(0,460)(12,460)}
\ct{(0,552)(16,552)(43,572)(73,587)(73,600)}
\end{axis}
\begin{axis}[two,p={6}{8},c6,lc6,r8]
\calib{0}{1}{0}{1}
\pts{(3,160)(3,260)(3,340)(60,596)(120,596)(200,596)}
\img{\C{19}{9}}
\ct{(0,472)(18,472)(28,494)(22,527)(37,562)(44,600)}
\end{axis}
\begin{axis}[two,p={7}{8},c7,lc7,r8]
\calib{0}{1}{0}{1}
\img{\C{19}{9}}
\ct{(0,472)(14,472)(28,492)(22,525)(37,562)(44,600)}
\end{axis}
\end{tikzpicture}
\end{document}
